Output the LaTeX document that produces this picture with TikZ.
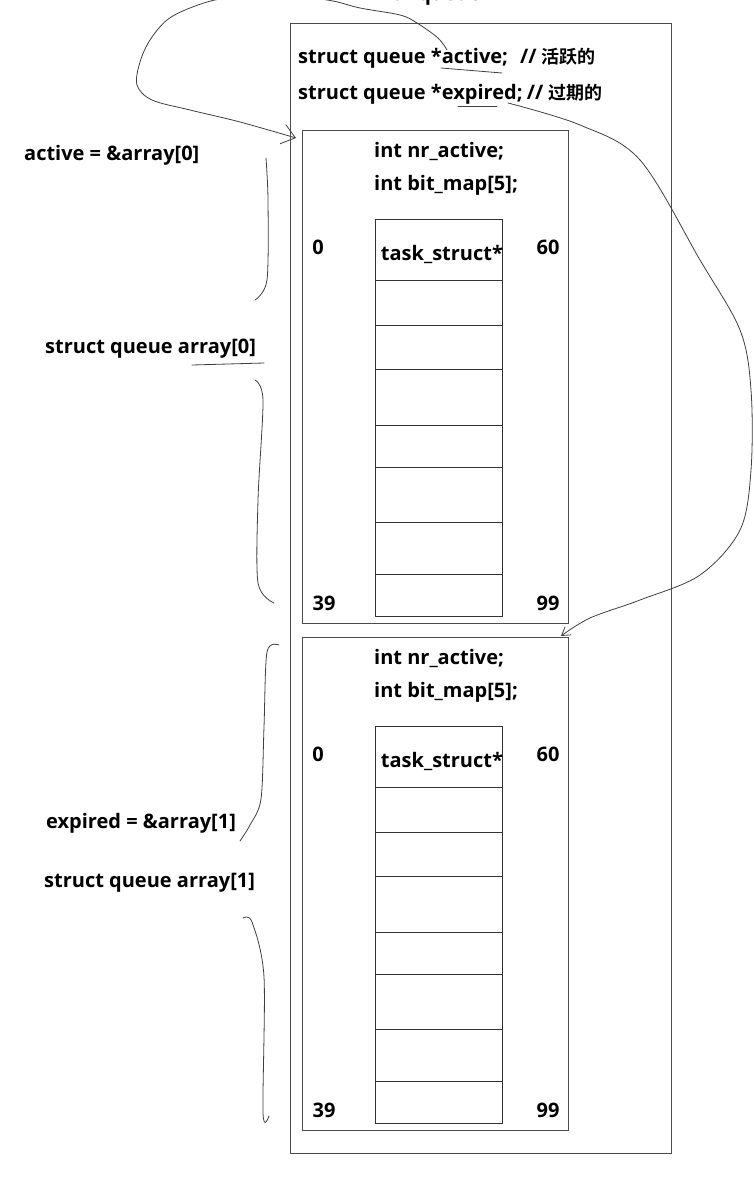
\documentclass[tikz,border=0pt]{standalone}
\usepackage{fontspec}
\setmainfont{Open Sans}
\newfontfamily\cjk{Noto Sans CJK SC}[BoldFont={Noto Sans CJK SC Bold}]
\usepackage{tikz}
\usetikzlibrary{positioning, arrows.meta}

\tikzset{
  frame/.style={draw=black!70, line width=1pt, inner sep=0pt, anchor=north west},
  cellbox/.style={draw=black!80, line width=0.9pt, inner sep=0pt, minimum width=127pt, anchor=north west},
  code/.style={font=\bfseries\fontsize{20}{24}\selectfont, inner sep=0pt, anchor=west},
  hand/.style={draw=black!75, line width=0.8pt, line cap=round},
  tip/.style={-{Straight Barb[length=8pt, width=10pt]}},
  bigtip/.style={-{Straight Barb[length=13pt, width=20pt]}}
}
\newcommand{\zh}[1]{{\cjk\fontsize{18}{20}\selectfont #1}}

\begin{document}
\begin{tikzpicture}[x=1pt, y=-1pt]
  \useasboundingbox (0,0) rectangle (754,1180);
  % runqueue frame
  \node[code, anchor=base] (title) at (432,1) {runqueue};
  \node[frame, minimum width=381pt, minimum height=1130pt] (rq) at (290,23) {};
  \node[code] (act) at (298,58) {struct queue *active;\hspace{12pt}// \zh{活跃的}};
  \node[code] (exp) at (298,94) {struct queue *expired;\hspace{-1pt} // \zh{过期的}};
  % the two queues, array[0] and array[1]
  \foreach \k/\oy in {0/0, 1/507} {
    \node[frame, minimum width=266pt, minimum height=493pt] (arr\k) at (302,130+\oy) {};
    \node[code] (nr\k) at (374,151+\oy) {int nr\_active;};
    \node[code] (bm\k) at (374,185+\oy) {int bit\_map[5];};
    % task_struct* slots
    \foreach \t/\h [count=\i] in {219/61, 280/45, 325/44, 369/56, 425/42, 467/55, 522/52, 574/42} {
      \node[cellbox, minimum height=\h pt] (cell\k-\i) at (375,\t+\oy) {};
    }
    \node[code, anchor=center, xshift=3pt, yshift=-5pt] (ts\k) at (cell\k-1.center) {task\_struct*};
    \node[code, anchor=center] (lo\k) at (318,247+\oy) {0};
    \node[code, anchor=center] (hi\k) at (548,247+\oy) {60};
    \node[code, anchor=center] (lb\k) at (324,603+\oy) {39};
    \node[code, anchor=center] (ub\k) at (548,603+\oy) {99};
  }
  % notes on the left
  \node[code] (aeq) at (24,155) {active = \&array[0]};
  \node[code] (sq0) at (45,349) {struct queue array[0]};
  \node[code] (eeq) at (46,823) {expired = \&array[1]};
  \node[code] (sq1) at (44,883) {struct queue array[1]};
  % hand drawn marks
  \draw[hand] (441,68) -- (502,73);
  \draw[hand] (458,106) -- (497,106);
  \draw[hand] (192,365) -- (264,363);
  \draw[hand] plot[smooth] coordinates {(266,158) (268,200) (267,280) (255,300)};
  \draw[hand] plot[smooth] coordinates {(255,380) (263,400) (258,500) (258,583) (274,603)};
  \draw[hand] plot[smooth] coordinates {(279,645) (267,652) (264,727) (261,799) (250,825) (240,841)};
  \draw[hand] plot[smooth] coordinates {(243,918) (252,922) (264,977) (263,1113) (269,1116)};
  % pointer arrows
  \coordinate (actw) at (447,50);
  \coordinate (expw) at (508,103);
  \coordinate (tip0) at ([shift={(-6,8)}]arr0.north west);
  \coordinate (tip1) at ([shift={(-8,-1)}]arr1.north east);
  \draw[hand, bigtip] plot[smooth, tension=0.55] coordinates {(actw) (438,38) (417,23) (400,15) (360,8) (333,1) (300,-3) (260,-3) (220,-1) (190,8) (167,20) (150,40) (140,62) (137,85) (152,100) (190,110) (240,122) (tip0)};
  \draw[hand, tip] plot[smooth, tension=0.55] coordinates {(expw) (580,125) (640,160) (700,260) (740,330) (751,390) (751,470) (740,530) (700,575) (640,600) (590,618) (tip1)};
\end{tikzpicture}
\end{document}
